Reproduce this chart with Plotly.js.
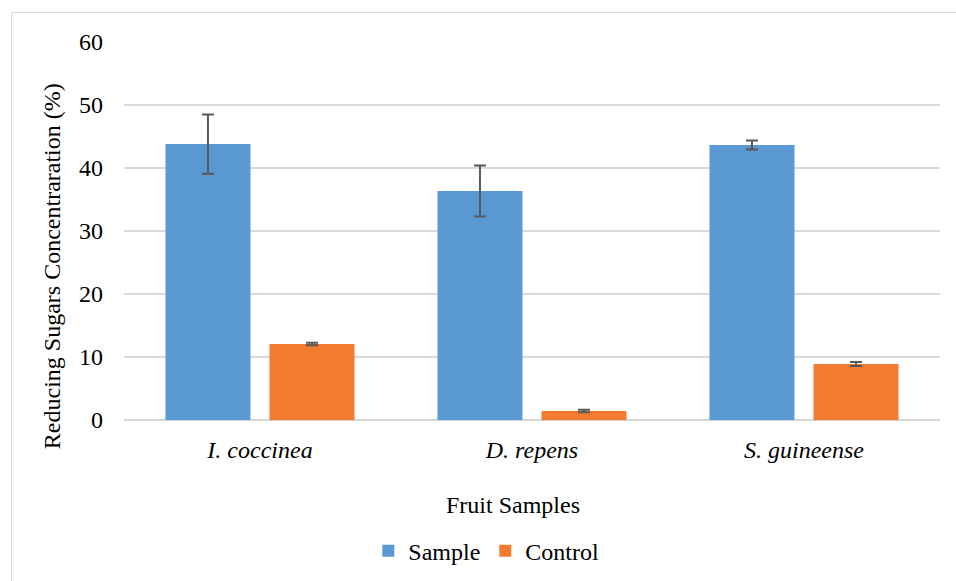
<!DOCTYPE html>
<html>
<head>
<meta charset="utf-8">
<script src="https://cdn.plot.ly/plotly-3.0.1.min.js"></script>
<style>
html,body{margin:0;padding:0;background:#fff;overflow:hidden;}
#frame{position:absolute;left:11px;top:12px;width:1000px;height:1000px;border:1px solid #d9d9d9;box-sizing:border-box;}
#chart{position:absolute;left:0;top:0;width:956px;height:581px;}
</style>
</head>
<body>
<div id="frame"></div>
<div id="chart"></div>
<script>
const categories = ['<i>I. coccinea</i>', '<i>D. repens</i>', '<i>S. guineense</i>'];
const sampleValues = [43.8, 36.35, 43.65];
const sampleErrors = [4.7, 4.05, 0.7];
const controlValues = [12.06, 1.43, 8.89];
const controlErrors = [0.2, 0.2, 0.3];
const yTicks = [0, 10, 20, 30, 40, 50, 60];

const font = 'Liberation Serif';
const fs = 24;
const errStyle = {type: 'data', visible: true, color: '#595959', thickness: 2, width: 6};

const traces = [
  {type: 'bar', name: 'Sample', x: categories, y: sampleValues,
   marker: {color: '#5a98d4'},
   error_y: Object.assign({array: sampleErrors}, errStyle)},
  {type: 'bar', name: 'Control', x: categories, y: controlValues,
   marker: {color: '#f27b30'},
   error_y: Object.assign({array: controlErrors}, errStyle)}
];

const layout = {
  width: 956, height: 581,
  margin: {l: 124, r: 16, t: 42, b: 161, autoexpand: false},
  paper_bgcolor: 'rgba(0,0,0,0)',
  plot_bgcolor: 'rgba(0,0,0,0)',
  font: {family: font, size: fs, color: '#000'},
  barmode: 'group',
  bargap: 0.235,
  bargroupgap: 0.183,
  showlegend: true,
  legend: {orientation: 'h', x: 0.444, xanchor: 'center', y: -0.347, yanchor: 'middle',
           font: {family: font, size: fs, color: '#000'}, itemclick: false, tracegroupgap: 0},
  xaxis: {type: 'category', automargin: false, showgrid: false, showline: false, zeroline: false, ticks: '',
          ticklabelstandoff: 13, tickfont: {family: font, size: fs, color: '#000'}},
  yaxis: {range: [0, 60], automargin: false, tickvals: yTicks, ticktext: yTicks.map(String), showgrid: true,
          gridcolor: '#d9d9d9', gridwidth: 1.5, zeroline: true, zerolinecolor: '#d9d9d9', zerolinewidth: 1.5,
          showline: false, ticks: '', ticklabelstandoff: 20,
          tickfont: {family: font, size: fs, color: '#000'}},
  annotations: [
    {text: 'Fruit Samples', xref: 'paper', yref: 'paper', x: 0.477, y: -0.225,
     xanchor: 'center', yanchor: 'middle', showarrow: false,
     font: {family: font, size: fs, color: '#000'}},
    {text: 'Reducing Sugars Concentraration (%)', xref: 'paper', yref: 'paper',
     x: (52 - 124) / 816, y: 0.407, textangle: -90,
     xanchor: 'center', yanchor: 'middle', showarrow: false,
     font: {family: font, size: fs, color: '#000'}}
  ]
};

Plotly.newPlot('chart', traces, layout, {displayModeBar: false, staticPlot: true});
</script>
</body>
</html>
